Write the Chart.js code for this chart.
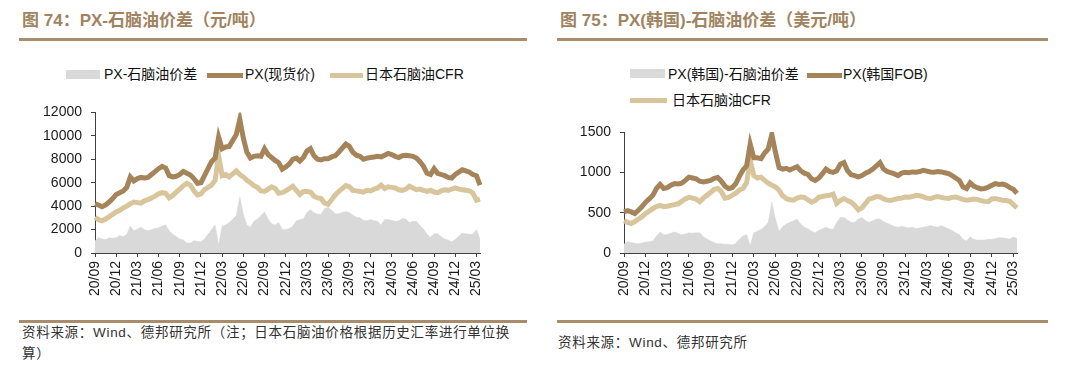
<!DOCTYPE html>
<html><head><meta charset="utf-8">
<script src="https://cdn.jsdelivr.net/npm/chart.js@4"></script>
<style>
body{margin:0;width:1080px;height:372px;background:#fff;position:relative;overflow:hidden;font-family:"Liberation Sans","Noto Sans CJK SC",sans-serif;}
.title{position:absolute;top:11px;font-size:17px;line-height:20px;font-weight:bold;color:#a08462;white-space:nowrap;}
.rule{position:absolute;height:3px;background:#a88c6c;}
.leg{position:absolute;font-size:14px;color:#111;white-space:nowrap;line-height:16px;}
.sw{position:absolute;}
.foot{position:absolute;font-size:13.5px;line-height:20.5px;color:#333;white-space:nowrap;letter-spacing:0.7px;}
.cv{position:absolute;top:95px;width:540px;height:215px;}
</style></head>
<body>
<div class="title" style="left:22px;">图 74：PX-石脑油价差（元/吨）</div>
<div class="rule" style="left:19px;width:508px;top:38px;"></div>
<div class="title" style="left:560px;">图 75：PX(韩国)-石脑油价差（美元/吨）</div>
<div class="rule" style="left:557px;width:491px;top:38px;"></div>

<div class="sw" style="left:66px;top:70px;width:34px;height:9px;background:#d9d9d9;"></div>
<div class="leg" style="left:104px;top:66px;">PX-石脑油价差</div>
<div class="sw" style="left:207px;top:73px;width:36px;height:5px;background:#a6845a;"></div>
<div class="leg" style="left:245px;top:66px;">PX(现货价)</div>
<div class="sw" style="left:330px;top:73px;width:33px;height:5px;background:#d8c59b;"></div>
<div class="leg" style="left:365px;top:66px;">日本石脑油CFR</div>

<div class="sw" style="left:630px;top:69px;width:35px;height:9px;background:#d9d9d9;"></div>
<div class="leg" style="left:668px;top:66px;">PX(韩国)-石脑油价差</div>
<div class="sw" style="left:807px;top:73px;width:35px;height:5px;background:#a6845a;"></div>
<div class="leg" style="left:843px;top:66px;">PX(韩国FOB)</div>
<div class="sw" style="left:630px;top:98px;width:37px;height:5px;background:#d8c59b;"></div>
<div class="leg" style="left:672px;top:92px;">日本石脑油CFR</div>

<div class="cv" style="left:0;"><canvas id="c1" width="540" height="215"></canvas></div>
<div class="cv" style="left:540px;"><canvas id="c2" width="540" height="215"></canvas></div>

<div class="rule" style="left:19px;width:508px;top:320px;"></div>
<div class="foot" style="left:22px;top:323px;">资料来源：Wind、德邦研究所（注；日本石脑油价格根据历史汇率进行单位换<br>算）</div>
<div class="rule" style="left:557px;width:491px;top:320px;"></div>
<div class="foot" style="left:558px;top:333px;">资料来源：Wind、德邦研究所</div>

<script>
// half-month observation dates, 2020-09 .. 2025-03
const dates = [];
for (let y = 2020, m = 9; dates.length < 110; ) {
  const mm = String(m).padStart(2, '0');
  dates.push(y + '-' + mm + '-01');
  if (dates.length < 110) dates.push(y + '-' + mm + '-16');
  m++; if (m > 12) { m = 1; y++; }
}
const tickLabels = ["20/09","20/12","21/03","21/06","21/09","21/12","22/03","22/06","22/09","22/12","23/03","23/06","23/09","23/12","24/03","24/06","24/09","24/12","25/03"];

// Figure 74 (CNY/t)
const pxSpot = [4200,4100,3950,4100,4350,4650,5000,5150,5300,5600,
6500,6150,6350,6450,6400,6450,6700,6950,7200,7400,
7250,6600,6500,6550,6700,6950,6800,6650,6350,5950,
6000,6600,7200,7800,8100,9900,8900,9050,9100,9600,
10100,11400,9800,8600,8100,8250,8300,8250,8900,8400,
8150,7900,7700,7150,7350,7600,8000,8100,7850,8150,
8700,8900,8300,8000,7950,8050,8050,8200,8300,8600,
8950,9300,9100,8600,8350,8250,8000,8100,8150,8200,
8250,8200,8350,8500,8400,8250,8150,8300,8350,8300,
8250,8100,7800,7400,6800,6700,7200,6800,6700,6600,
6450,6400,6700,6900,7100,7000,6900,6700,6600,5800];
const naphthaCny = [3050,2850,2750,2900,3100,3300,3500,3650,3850,4000,
4200,4350,4300,4250,4450,4550,4700,4850,5050,5150,
5100,4700,4900,5200,5450,5750,5950,5800,5300,4950,
5050,5400,5600,5800,6200,8300,6600,6700,6500,6750,
7000,6700,6500,6200,6000,5750,5600,5300,5250,5450,
5650,5500,5100,5150,5300,5500,5700,5350,5000,5250,
5250,5200,4850,4700,4650,4250,4150,4550,4950,5250,
5500,5750,5650,5350,5300,5250,5200,5350,5300,5450,
5550,5800,5500,5650,5600,5550,5400,5350,5450,5700,
5550,5400,5450,5350,5250,5350,5200,5150,5300,5400,
5350,5450,5550,5450,5400,5350,5300,5100,4500,4600];
const spreadCny = [1050,1300,1200,1150,1300,1250,1300,1500,1400,1600,
2300,1900,2050,2200,2000,1900,2000,2100,2150,2300,
2400,1900,1600,1400,1200,1100,850,850,1050,1000,
950,1200,1600,2000,2400,700,2300,2400,2600,2900,
3200,4800,3300,2400,2200,2700,2900,3200,3500,2900,
2500,2400,2600,2000,2000,2100,2300,2750,2850,2900,
3450,3700,3450,3300,3300,3800,3900,3650,3350,3350,
3450,3550,3450,3250,3050,3000,2800,2750,2850,2750,
2700,2400,2850,2850,2800,2700,2750,2950,2900,2600,
2700,2700,2350,2050,1600,1350,1650,1650,1400,1200,
1100,950,1150,1450,1700,1650,1600,1600,2000,1200];

// Figure 75 (USD/t)
const pxKoreaFob = [510,525,510,490,530,575,630,670,715,800,
850,800,810,840,860,855,865,900,940,930,
920,890,880,890,900,925,935,890,830,800,
810,860,950,1030,1080,1350,1180,1180,1170,1240,
1290,1470,1250,1060,1040,1050,1030,1050,1070,1020,
990,975,920,900,930,980,1040,1010,1000,1020,
1100,1120,1020,970,960,945,960,990,1010,1040,
1080,1120,1040,1010,995,980,960,990,1000,995,
1005,1000,1010,1025,1015,1005,1000,1010,1005,995,
985,960,930,900,820,800,870,830,810,795,
800,815,840,860,850,855,840,810,790,740];
const naphthaUsd = [400,380,365,390,420,450,490,520,550,575,
590,575,580,590,600,610,640,670,690,680,
670,635,680,715,750,790,800,760,680,690,
715,740,780,800,870,1150,960,930,940,900,
865,840,820,780,710,675,660,655,680,695,
690,660,630,650,690,700,710,715,730,615,
650,675,650,630,590,535,560,615,670,680,
700,695,670,655,650,665,675,680,695,690,
700,715,710,695,680,675,690,700,690,680,
675,690,695,680,665,655,660,670,665,650,
640,635,670,675,665,655,650,640,600,560];
const spreadUsd = [110,140,130,120,115,125,135,140,150,210,
260,225,230,245,260,245,225,235,250,245,
250,250,200,175,150,130,115,115,110,110,
100,120,170,210,230,90,250,270,290,330,
380,630,420,270,330,360,380,400,420,360,
320,300,270,250,280,300,320,300,290,380,
440,440,410,380,380,420,440,400,380,400,
420,420,390,370,350,330,320,330,320,310,
320,300,310,320,330,340,330,320,340,320,
300,280,250,230,170,150,200,170,160,160,
160,170,170,180,190,190,180,175,200,180];

const C_PX = '#a6845a', C_NAP = '#d8c59b', C_GRAY = '#d9d9d9', C_AX = '#404040';
const tickFont = {family: '"Liberation Sans", Arial, sans-serif', size: 14};

function makeChart(id, pxData, napData, sprData, yMax, yStep, yWidth, pad) {
  new Chart(document.getElementById(id), {
    type: 'line',
    data: {
      labels: dates,
      datasets: [
        {data: pxData, borderColor: C_PX, borderWidth: 5, pointRadius: 0, tension: 0, fill: false},
        {data: napData, borderColor: C_NAP, borderWidth: 5, pointRadius: 0, tension: 0, fill: false},
        {data: sprData, borderColor: C_GRAY, backgroundColor: C_GRAY, borderWidth: 0.5, pointRadius: 0, tension: 0, fill: 'origin'}
      ]
    },
    options: {
      responsive: false, animation: false, devicePixelRatio: 1,
      layout: {padding: pad},
      plugins: {legend: {display: false}, tooltip: {enabled: false}},
      scales: {
        x: {
          type: 'category', offset: false,
          grid: {display: true, drawOnChartArea: false, drawTicks: true, tickLength: 4, color: C_AX},
          border: {display: true, color: C_AX, width: 1},
          ticks: {autoSkip: false, minRotation: 90, maxRotation: 90, padding: 4, color: '#1a1a1a', font: tickFont,
            callback: (v, i) => (i % 6 === 0 ? tickLabels[i / 6] : null)},
          afterFit: s => { s.height = 57; }
        },
        y: {
          min: 0, max: yMax,
          grid: {display: true, drawOnChartArea: false, drawTicks: true, tickLength: 4, color: C_AX},
          border: {display: true, color: C_AX, width: 1},
          ticks: {stepSize: yStep, padding: 9, color: '#1a1a1a', font: tickFont, callback: v => String(v)},
          afterFit: s => { s.width = yWidth; }
        }
      }
    }
  });
}
makeChart('c1', pxSpot, naphthaCny, spreadCny, 12000, 2000, 95, {left: 0, right: 60, top: 13, bottom: 0});
makeChart('c2', pxKoreaFob, naphthaUsd, spreadUsd, 1500, 500, 84, {left: 0, right: 63, top: 37, bottom: 0});
</script>
</body></html>
